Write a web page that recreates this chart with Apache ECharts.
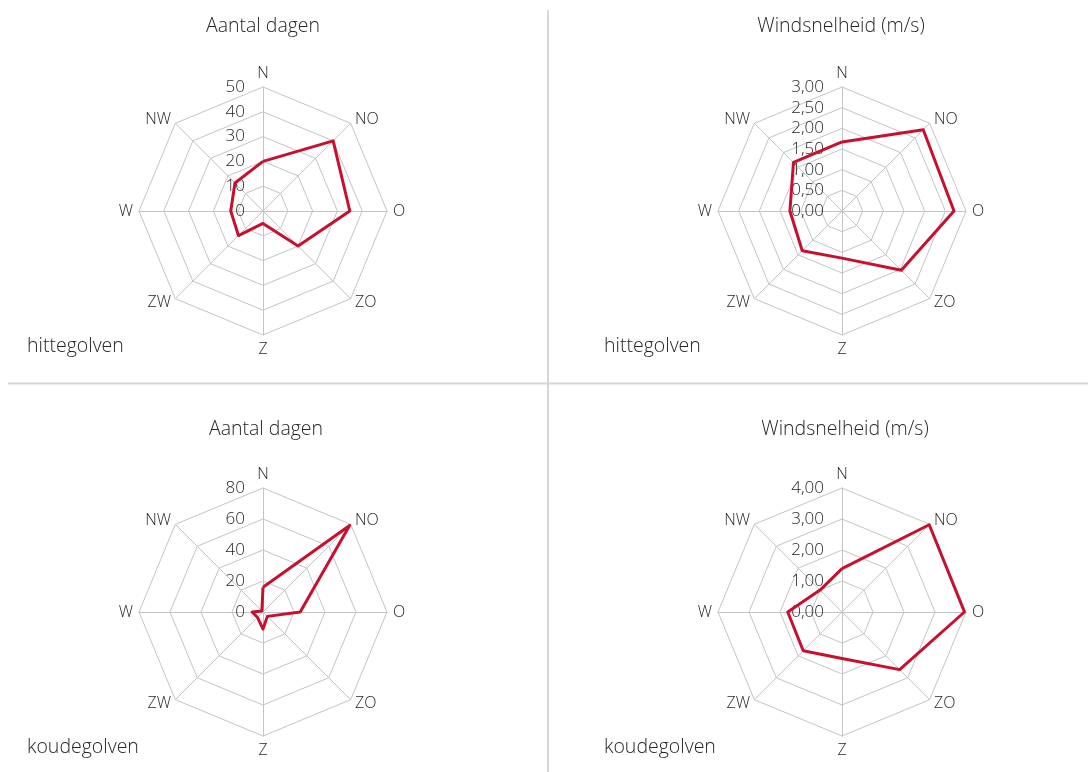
<!DOCTYPE html>
<html><head><meta charset="utf-8">
<script src="https://cdn.jsdelivr.net/npm/echarts@6/dist/echarts.min.js"></script>
<style>html,body{margin:0;padding:0;background:#fff}#c{width:1088px;height:772px}</style>
</head><body><div id="c"></div>
<script>
// Directions in clockwise order starting at North
const directions = ['N', 'NO', 'O', 'ZO', 'Z', 'ZW', 'W', 'NW'];
const hitteDagen = [20, 40, 35, 20, 5, 14, 13, 16];
const hitteWind = [1.67, 2.78, 2.71, 2.03, 1.14, 1.36, 1.26, 1.66];
const koudeDagen = [16, 79, 24, 4, 11, 5, 7, 1];
const koudeWind = [1.40, 3.98, 3.95, 2.63, 1.50, 1.77, 1.75, 1.00];
const panelTitles = ['Aantal dagen', 'Windsnelheid (m/s)', 'Aantal dagen', 'Windsnelheid (m/s)'];
const rowLabels = ['hittegolven', 'koudegolven'];
const axisMax = [50, 3, 80, 4];
const axisSplit = [5, 6, 4, 4];

const FONT = '"Open Sans", "Noto Sans", sans-serif';
const RED = '#c8102e';
const TXT = '#262626';
const centers = [[263, 211], [842, 211], [263, 612], [842, 612]];
const radius = 124;
const seriesData = [hitteDagen, hitteWind, koudeDagen, koudeWind];
const decimals = [false, true, false, true];

// ECharts lays indicators counter-clockwise: reorder to N, NW, W, ZW, Z, ZO, O, NO
const order = [0, 7, 6, 5, 4, 3, 2, 1];

const radars = centers.map((c, i) => ({
  center: c,
  radius: radius,
  startAngle: 90,
  shape: 'polygon',
  splitNumber: axisSplit[i],
  indicator: order.map((k, j) => {
    const ind = { name: directions[k], min: 0, max: axisMax[i] };
    if (j === 0) ind.axisLabel = { show: true };
    return ind;
  }),
  axisName: { color: TXT, fontSize: 16, fontFamily: FONT, fontWeight: 300 },
  nameGap: 6,
  axisLine: { lineStyle: { color: '#c4c4c4', width: 1 } },
  splitLine: { lineStyle: { color: '#c4c4c4', width: 1 } },
  splitArea: { show: false },
  axisTick: { show: false },
  axisLabel: {
    show: false,
    color: TXT, fontSize: 17, fontFamily: FONT, fontWeight: 300,
    margin: 18,
    formatter: decimals[i] ? (v => v.toFixed(2).replace('.', ',')) : (v => String(v))
  }
}));

const series = seriesData.map((d, i) => ({
  type: 'radar',
  radarIndex: i,
  symbol: 'none',
  lineStyle: { color: RED, width: 3 },
  itemStyle: { color: RED },
  data: [{ value: order.map(k => d[k]) }],
  silent: true
}));

const titlePos = [[263, 26], [841, 26], [266, 429], [845, 429]];
const graphics = [];
titlePos.forEach((p, i) => {
  graphics.push({ type: 'text', x: p[0], y: p[1], style: { text: panelTitles[i], fill: TXT, font: '300 19.5px ' + FONT, textAlign: 'center', textVerticalAlign: 'middle' } });
});
[[27, 346], [604, 346], [27, 747], [604, 747]].forEach((p, i) => {
  graphics.push({ type: 'text', x: p[0], y: p[1], style: { text: rowLabels[i < 2 ? 0 : 1], fill: TXT, font: '300 19.5px ' + FONT, textAlign: 'left', textVerticalAlign: 'middle' } });
});
graphics.push({ type: 'line', shape: { x1: 548, y1: 10, x2: 548, y2: 772 }, style: { stroke: '#d6d6d6', lineWidth: 2 } });
graphics.push({ type: 'line', shape: { x1: 8, y1: 383.5, x2: 1088, y2: 383.5 }, style: { stroke: '#d6d6d6', lineWidth: 2 } });

const chart = echarts.init(document.getElementById('c'), null, { renderer: 'canvas' });
chart.setOption({
  animation: false,
  backgroundColor: '#fff',
  radar: radars,
  series: series,
  graphic: graphics
});
</script></body></html>
